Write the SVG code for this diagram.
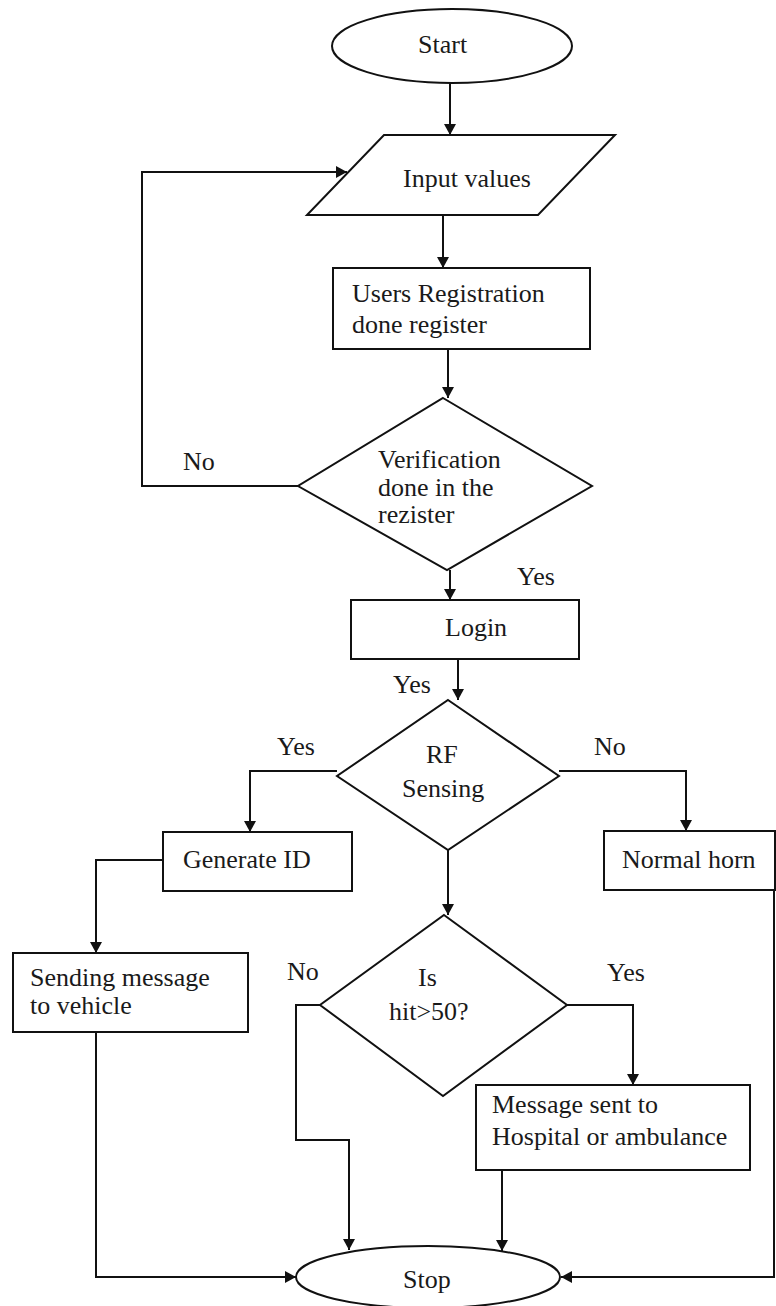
<svg xmlns="http://www.w3.org/2000/svg" width="776" height="1306" viewBox="0 0 776 1306">
<style>
.s{fill:#fff;stroke:#111;stroke-width:2}
.c{fill:none;stroke:#111;stroke-width:2}
text{font-family:'Liberation Serif','Tinos','DejaVu Serif',serif;font-size:26px;fill:#1a1a1a}
</style>
<defs>
<marker id="a" markerUnits="userSpaceOnUse" markerWidth="12" markerHeight="12" refX="11" refY="6" orient="auto">
<path d="M0,0 L11,6 L0,12 z" fill="#111"/>
</marker>
</defs>
<rect width="776" height="1306" fill="#fff"/>
<g id="connectors">
<path class="c" d="M450,83 V135" marker-end="url(#a)"/>
<path class="c" d="M298,486 H142 V172 H347" marker-end="url(#a)"/>
<path class="c" d="M443,215 V268" marker-end="url(#a)"/>
<path class="c" d="M448,349 V398" marker-end="url(#a)"/>
<path class="c" d="M450,570 V600" marker-end="url(#a)"/>
<path class="c" d="M458,659 V700" marker-end="url(#a)"/>
<path class="c" d="M337,771 H250 V832" marker-end="url(#a)"/>
<path class="c" d="M559,771 H686 V831" marker-end="url(#a)"/>
<path class="c" d="M163,860 H96 V953" marker-end="url(#a)"/>
<path class="c" d="M448,850 V915" marker-end="url(#a)"/>
<path class="c" d="M567,1005 H633 V1085" marker-end="url(#a)"/>
<path class="c" d="M320,1005 H296 V1140 H349 V1250" marker-end="url(#a)"/>
<path class="c" d="M502,1170 V1251" marker-end="url(#a)"/>
<path class="c" d="M96,1032 V1277 H296" marker-end="url(#a)"/>
<path class="c" d="M774,890 V1277 H561" marker-end="url(#a)"/>
</g>
<g id="labels">
<text x="183" y="470">No</text>
<text x="517" y="585">Yes</text>
<text x="393" y="693">Yes</text>
<text x="277" y="755">Yes</text>
<text x="594" y="755">No</text>
<text x="287" y="980">No</text>
<text x="607" y="981">Yes</text>
</g>
<g id="start">
<ellipse class="s" cx="452" cy="46" rx="120" ry="37"/>
<text x="418" y="53">Start</text>
</g>
<g id="input">
<polygon class="s" points="384,135 615,135 538,215 307,215"/>
<text x="403" y="187">Input values</text>
</g>
<g id="registration">
<rect class="s" x="333" y="268" width="257" height="81"/>
<text x="352" y="302">Users Registration</text>
<text x="352" y="333">done register</text>
</g>
<g id="verification">
<polygon class="s" points="443,398 592,486 447,570 298,486"/>
<text x="378" y="468">Verification</text>
<text x="378" y="496">done in the</text>
<text x="378" y="523">rezister</text>
</g>
<g id="login">
<rect class="s" x="351" y="600" width="228" height="59"/>
<text x="445" y="636">Login</text>
</g>
<g id="rf">
<polygon class="s" points="448,700 559,776 448,850 337,776"/>
<text x="426" y="763">RF</text>
<text x="402" y="797">Sensing</text>
</g>
<g id="generate">
<rect class="s" x="163" y="832" width="189" height="59"/>
<text x="183" y="868">Generate ID</text>
</g>
<g id="normal">
<rect class="s" x="604" y="831" width="171" height="59"/>
<text x="622" y="868">Normal horn</text>
</g>
<g id="sending">
<rect class="s" x="13" y="953" width="235" height="79"/>
<text x="30" y="986">Sending message</text>
<text x="30" y="1014">to vehicle</text>
</g>
<g id="hit">
<polygon class="s" points="444,915 567,1005 443,1096 320,1005"/>
<text x="418" y="986">Is</text>
<text x="389" y="1020">hit&gt;50?</text>
</g>
<g id="message">
<rect class="s" x="476" y="1085" width="274" height="85"/>
<text x="492" y="1113">Message sent to</text>
<text x="492" y="1145">Hospital or ambulance</text>
</g>
<g id="stop">
<ellipse class="s" cx="428" cy="1277" rx="132" ry="31"/>
<text x="403" y="1288">Stop</text>
</g>
</svg>
